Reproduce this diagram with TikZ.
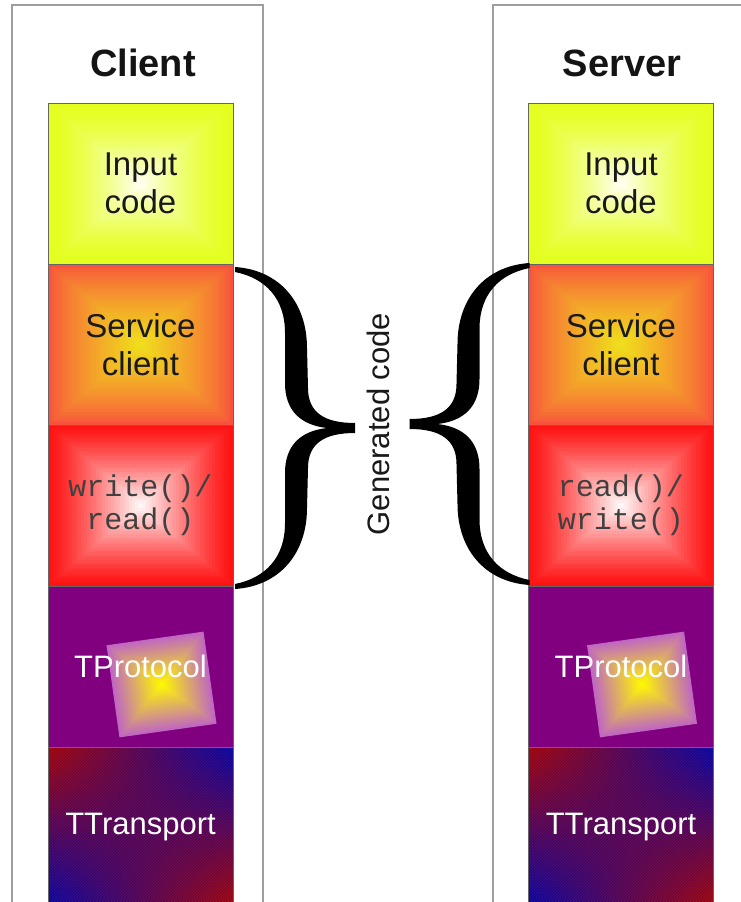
\documentclass[tikz,border=0pt]{standalone}
\usepackage{fontspec}
\setmainfont{Liberation Sans}
\setmonofont{Liberation Mono}
\usetikzlibrary{positioning, calc, patterns}

\definecolor{inyellow}{RGB}{228,255,30}
\definecolor{inwhite}{RGB}{255,255,238}
\definecolor{svred}{RGB}{248,82,60}
\definecolor{svyellow}{RGB}{240,222,28}
\definecolor{rwred}{RGB}{255,18,18}
\definecolor{rwwhite}{RGB}{255,246,246}
\definecolor{protpurple}{RGB}{128,0,128}
\definecolor{sqedge}{RGB}{192,104,192}
\definecolor{sqyellow}{RGB}{255,250,0}
\definecolor{trred}{RGB}{160,4,10}
\definecolor{trblue}{RGB}{8,4,160}
\definecolor{framegray}{RGB}{158,158,158}

\newcommand{\labelfont}{\fontsize{33}{38}\selectfont}
\newcommand{\codefont}{\fontsize{30}{33}\selectfont\ttfamily}

% TProtocol の中の傾いた四角
\newcommand{\protsquare}[1]{%
  \begin{scope}[shift={($(#1.center)+(21,18)$)}, rotate=8]
    \foreach \k in {0,...,24}{
      \pgfmathsetmacro\t{100*\k/24}
      \fill[sqyellow!\t!sqedge] (-49+2*\k,-46.5+1.9*\k) rectangle (49-2*\k,46.5-1.9*\k);
    }
  \end{scope}}

\tikzset{
  frame/.style={draw=framegray, line width=2.5pt},
  title/.style={font=\fontsize{38}{40}\selectfont\bfseries, text=black!92},
  layer/.style={draw=black!60, line width=1pt, minimum width=185pt,
    minimum height=161pt, inner sep=0pt, outer sep=0pt, align=center,
    font=\labelfont, text=black!90},
  % 外側 (#1) から中心 (#2) への四角いグラデーション, #3 は色の寄り方
  glow/.style n args={3}{path picture={
    \foreach \k in {0,...,30}{
      \pgfmathsetmacro\t{100*(\k/30)^#3}
      \fill[#2!\t!#1]
        ($(path picture bounding box.south west)!\k/62!(path picture bounding box.north east)$)
        rectangle
        ($(path picture bounding box.north east)!\k/62!(path picture bounding box.south west)$);
    }}},
  proto/.style={fill=protpurple},
  whitetext/.style={text=white, font=\fontsize{31}{36}\selectfont},
  % 四隅が 赤・青・青・赤 のグラデーション（横帯ごとに塗る）
  transport/.style={fill=trred, whitetext,
    path picture={
      \foreach \k in {0,...,23}{
        \pgfmathsetmacro\t{100*(\k+0.5)/24}
        \pgfmathsetmacro\s{(\k+1.2)/24}
        \fill[left color=trblue!\t!trred, right color=trred!\t!trblue]
          ($(path picture bounding box.north west)!\k/24!(path picture bounding box.south west)$)
          rectangle
          ($(path picture bounding box.north east)!\s!(path picture bounding box.south east)$);
      }
      \fill[pattern=north east lines, pattern color=white, opacity=.07]
        (path picture bounding box.south west) rectangle (path picture bounding box.north east);
    }},
  curlybrace/.pic={
    \fill (0,-5) .. controls (-30,-5) and (-47,-15) .. (-47,-40)
      -- (-48,-80) .. controls (-48,-125) and (-75,-158) .. (-120,-161)
      -- (-120,-156) .. controls (-90,-150) and (-70,-130) .. (-70,-95)
      -- (-70,-45) .. controls (-70,-18) and (-55,-3) .. (-28,0)
      .. controls (-55,3) and (-70,18) .. (-70,45)
      -- (-70,95) .. controls (-70,130) and (-90,150) .. (-120,156)
      -- (-120,161) .. controls (-75,158) and (-48,125) .. (-48,80)
      -- (-47,40) .. controls (-47,15) and (-30,5) .. (0,5) -- cycle;
  }
}

\begin{document}
\begin{tikzpicture}[x=1pt, y=-1pt]
  \useasboundingbox (0,0) rectangle (741,902);
  \clip (0,0) rectangle (741,902);
  \fill[white] (0,0) rectangle (741,902);

  % クライアント側
  \draw[frame] (12,5) rectangle (263,920);
  \node[title] (cl-title) at (143,63) {Client};
  \node[layer, glow={inyellow}{inwhite}{1.5}] (cl-in) at (140.5,183.5) {Input\\code};
  \node[layer, glow={svred}{svyellow}{0.8}, below=0pt of cl-in] (cl-svc) {Service\\client};
  \node[layer, glow={rwred}{rwwhite}{1.2}, below=0pt of cl-svc, font=\codefont, text=black!75]
    (cl-rw) {write()/\\read()};
  \node[layer, proto, below=0pt of cl-rw] (cl-prot) {};
  \protsquare{cl-prot}
  \node[whitetext] (cl-prot-text) at (cl-prot) {TProtocol};
  \node[layer, transport, below=0pt of cl-prot] (cl-trans) {TTransport};

  % サーバ側
  \draw[frame] (493,5) rectangle (780,920);
  \node[title] (sv-title) at (622,63) {Server};
  \node[layer, glow={inyellow}{inwhite}{1.5}] (sv-in) at (621,183.5) {Input\\code};
  \node[layer, glow={svred}{svyellow}{0.8}, below=0pt of sv-in] (sv-svc) {Service\\client};
  \node[layer, glow={rwred}{rwwhite}{1.2}, below=0pt of sv-svc, font=\codefont, text=black!75]
    (sv-rw) {read()/\\write()};
  \node[layer, proto, below=0pt of sv-rw] (sv-prot) {};
  \protsquare{sv-prot}
  \node[whitetext] (sv-prot-text) at (sv-prot) {TProtocol};
  \node[layer, transport, below=0pt of sv-prot] (sv-trans) {TTransport};

  % 生成コードの括弧
  \pic at ($(cl-svc.south east)+(122,3)$) {curlybrace};
  \pic[xscale=-1] at ($(sv-svc.south west)+(-119,-1)$) {curlybrace};
  \node[rotate=90, font=\fontsize{31}{34}\selectfont, text=black!90] (gen) at (378,424) {Generated code};
\end{tikzpicture}
\end{document}
